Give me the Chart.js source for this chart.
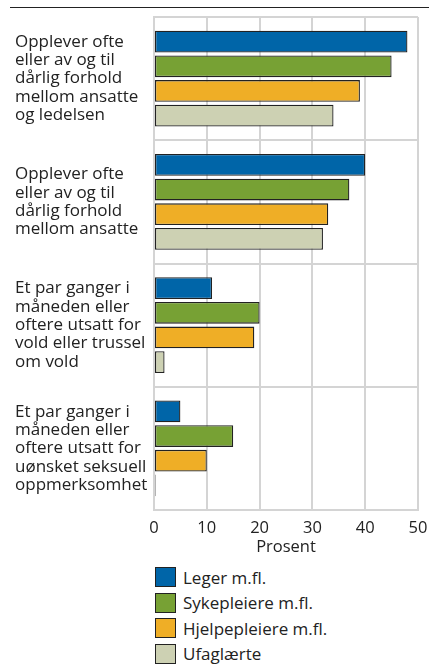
<!DOCTYPE html>
<html>
<head>
<meta charset="utf-8">
<script src="https://cdn.jsdelivr.net/npm/chart.js@4/dist/chart.umd.min.js"></script>
<style>
  html, body { margin: 0; padding: 0; background: #fff; }
  body { width: 430px; height: 667px; position: relative; overflow: hidden; font-family: "Open Sans", sans-serif; }
  #topline { position: absolute; left: 10px; top: 7px; width: 419px; height: 1px; background: #222; }
  #wrap { position: absolute; left: 0; top: 0; width: 430px; height: 560px; }
  #legend { position: absolute; left: 155px; top: 567px; margin: 0; padding: 0; list-style: none; }
  #legend li { height: 20px; margin-bottom: 5.5px; display: flex; align-items: center; font-size: 17px; color: #222; }
  #legend .box { width: 21px; height: 20px; border: 1px solid #222; margin-right: 7px; box-sizing: border-box; }
</style>
</head>
<body>
<div id="topline"></div>
<div id="wrap"><canvas id="c"></canvas></div>
<ul id="legend"></ul>
<script>
const categories = [
  ["Opplever ofte", "eller av og til", "dårlig forhold", "mellom ansatte", "og ledelsen"],
  ["Opplever ofte", "eller av og til", "dårlig forhold", "mellom ansatte"],
  ["Et par ganger i", "måneden eller", "oftere utsatt for", "vold eller trussel", "om vold"],
  ["Et par ganger i", "måneden eller", "oftere utsatt for", "uønsket seksuell", "oppmerksomhet"]
];
const seriesNames = ["Leger m.fl.", "Sykepleiere m.fl.", "Hjelpepleiere m.fl.", "Ufaglærte"];
const leger = [48, 40, 11, 5];
const sykepleiere = [45, 37, 20, 15];
const hjelpepleiere = [39, 33, 19, 10];
const ufaglaerte = [34, 32, 2, 0.3];
const xTicks = [0, 10, 20, 30, 40, 50];
const axisTitle = "Prosent";

const colors = ["#0065a8", "#77a134", "#efae26", "#cdd1b3"];
const values = [leger, sykepleiere, hjelpepleiere, ufaglaerte];

const gridColor = "#d4d4d4";
const labelFont = { family: "'Open Sans', sans-serif", size: 17, lineHeight: "18.3px" };
const tickFont = { family: "'Open Sans', sans-serif", size: 16.5 };

const chart = new Chart(document.getElementById("c"), {
  type: "bar",
  data: {
    labels: categories,
    datasets: seriesNames.map((n, i) => ({
      label: n,
      data: values[i],
      backgroundColor: colors[i],
      borderColor: "#222",
      borderWidth: 1.3,
      borderSkipped: false,
      categoryPercentage: 0.8,
      barPercentage: 0.88
    }))
  },
  options: {
    indexAxis: "y",
    responsive: true,
    maintainAspectRatio: false,
    animation: false,
    layout: { padding: { left: 15, top: 17, right: 12, bottom: 0 } },
    plugins: { legend: { display: false }, tooltip: { enabled: false } },
    scales: {
      x: {
        min: 0, max: 50,
        afterBuildTicks: (s) => { s.ticks = xTicks.map(v => ({ value: v })); },
        afterFit: (s) => { s.height = 50; s.paddingLeft = 0; s.paddingRight = 0; },
        grid: { color: gridColor, lineWidth: 2, drawTicks: false },
        border: { color: gridColor, width: 2 },
        ticks: { color: "#222", font: tickFont, padding: 8, maxRotation: 0 },
        title: { display: true, text: axisTitle, color: "#222", font: tickFont, padding: { top: 0, bottom: 3 } }
      },
      y: {
        afterFit: (s) => { s.width = 154 - 15; s.paddingTop = 0; s.paddingBottom = 0; },
        grid: { color: gridColor, lineWidth: 2, drawTicks: false, offset: true },
        border: { color: gridColor, width: 2 },
        ticks: { color: "#222", font: labelFont, crossAlign: "far", padding: 0 }
      }
    }
  },
  plugins: [{
    id: "frame",
    afterDraw(c) {
      const a = c.chartArea, ctx = c.ctx;
      ctx.save();
      ctx.strokeStyle = gridColor; ctx.lineWidth = 2;
      ctx.beginPath();
      ctx.moveTo(a.left, a.top); ctx.lineTo(a.right, a.top);
      ctx.moveTo(a.right, a.top); ctx.lineTo(a.right, a.bottom);
      ctx.stroke();
      ctx.restore();
    }
  }]
});

const ul = document.getElementById("legend");
seriesNames.forEach((n, i) => {
  const li = document.createElement("li");
  const b = document.createElement("span");
  b.className = "box"; b.style.background = colors[i];
  li.appendChild(b);
  li.appendChild(document.createTextNode(n));
  ul.appendChild(li);
});
</script>
</body>
</html>
